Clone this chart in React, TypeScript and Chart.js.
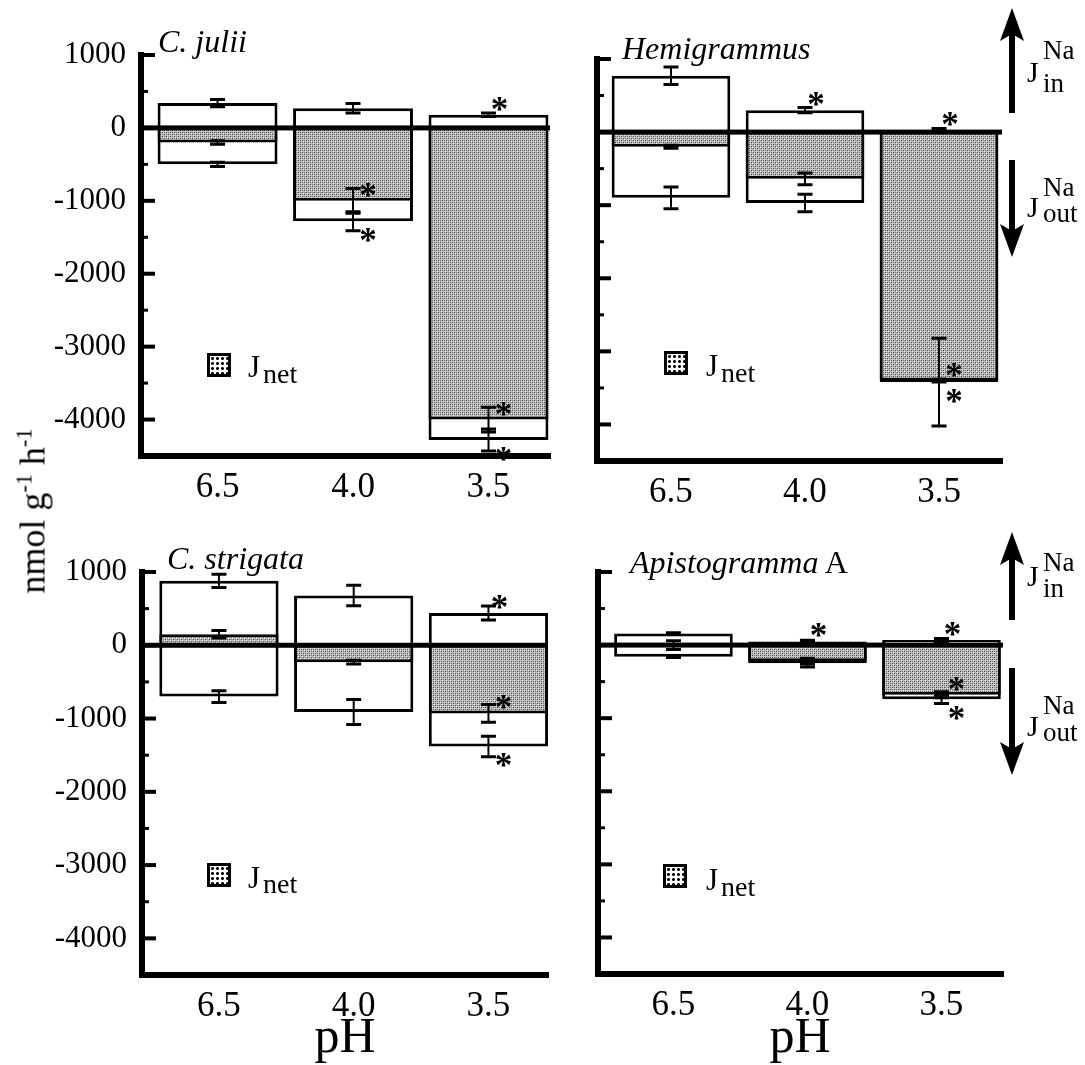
import React, { useEffect, useRef } from 'react';
import { Chart, registerables } from 'chart.js';
Chart.register(...registerables);

const FONT = '"Liberation Serif", "Times New Roman", Times, serif';

// ---------- data ----------
const phLabels = ['6.5', '4.0', '3.5'];
const yTickValues = [1000, 0, -1000, -2000, -3000, -4000];
const yMinorValues = [500, -500, -1500, -2500, -3500];

// C. julii
const juliiIn = [340, 270, 180];
const juliiInErr = [50, 65, 25];
const juliiOut = [-500, -1280, -4280];
const juliiOutErr = [30, 130, 150];
const juliiNet = [-200, -1000, -4000];
const juliiNetErr = [25, 170, 170];
const juliiSigIn = [false, false, true];
const juliiSigOut = [false, true, true];
const juliiSigNet = [false, true, true];

// Hemigrammus
const hemiIn = [770, 300, 30];
const hemiInErr = [120, 35, 20];
const hemiOut = [-900, -970, -3420];
const hemiOutErr = [150, 120, 600];
const hemiNet = [-200, -640, -3400];
const hemiNetErr = [20, 80, 20];
const hemiSigIn = [false, true, true];
const hemiSigOut = [false, false, true];
const hemiSigNet = [false, false, true];

// C. strigata
const strigIn = [880, 680, 440];
const strigInErr = [90, 140, 95];
const strigOut = [-700, -910, -1380];
const strigOutErr = [80, 170, 140];
const strigNet = [150, -230, -930];
const strigNetErr = [50, 25, 120];
const strigSigIn = [false, false, true];
const strigSigOut = [false, false, true];
const strigSigNet = [false, false, true];

// Apistogramma A
const apistoIn = [160, 50, 70];
const apistoInErr = [10, 15, 20];
const apistoOut = [-160, -250, -740];
const apistoOutErr = [10, 50, 60];
const apistoNet = [0, -220, -680];
const apistoNetErr = [60, 40, 40];
const apistoSigIn = [false, true, true];
const apistoSigOut = [false, false, true];
const apistoSigNet = [false, false, true];

const Y_MIN = -4500;
const Y_MAX = 1000;

// ---------- layout ----------
type Layout = { left: number; right: number; top: number; bottom: number; xMin: number; xMax: number; showY: boolean };
const PT = 25, PR = 10, HX = 60;

const layoutTL: Layout = { left: 141, right: 550, top: 55, bottom: 456, xMin: -0.565, xMax: 2.454, showY: true };
const layoutTR: Layout = { left: 597, right: 1002, top: 59, bottom: 461, xMin: -0.552, xMax: 2.47, showY: false };
const layoutBL: Layout = { left: 142, right: 548, top: 572, bottom: 975, xMin: -0.571, xMax: 2.442, showY: true };
const layoutBR: Layout = { left: 598, right: 1003, top: 572, bottom: 974, xMin: -0.563, xMax: 2.459, showY: false };

function makePattern(): CanvasPattern | string {
  const c = document.createElement('canvas');
  c.width = 4; c.height = 4;
  const g = c.getContext('2d');
  if (!g) return '#b0b0b0';
  g.fillStyle = '#bdbdbd'; g.fillRect(0, 0, 4, 4);
  g.fillStyle = '#444'; g.fillRect(0, 0, 1, 1); g.fillRect(2, 2, 1, 1);
  g.fillStyle = '#808080'; g.fillRect(2, 0, 1, 1); g.fillRect(0, 2, 1, 1);
  g.fillStyle = '#e2e2e2'; g.fillRect(1, 1, 1, 1); g.fillRect(3, 3, 1, 1);
  return g.createPattern(c, 'repeat') || '#b0b0b0';
}

const annotPlugin = {
  id: 'annot',
  afterDatasetsDraw(chart: any) {
    const ctx: CanvasRenderingContext2D = chart.ctx;
    const ca = chart.chartArea;
    const ys = chart.scales.y;
    ctx.save();
    ctx.fillStyle = '#000';
    ctx.strokeStyle = '#000';
    // zero line
    const y0 = ys.getPixelForValue(0);
    ctx.fillRect(ca.left, y0 - 2.5, ca.right - ca.left, 5);
    // error bars
    chart.data.datasets.forEach((ds: any, di: number) => {
      const meta = chart.getDatasetMeta(di);
      meta.data.forEach((el: any, j: number) => {
        const v = ds.data[j].y;
        const e = ds.errors[j];
        const yt = ys.getPixelForValue(v + e);
        const yb = ys.getPixelForValue(v - e);
        const x = el.x;
        ctx.lineWidth = 2;
        ctx.beginPath(); ctx.moveTo(x, yt); ctx.lineTo(x, yb); ctx.stroke();
        ctx.lineWidth = 3;
        ctx.beginPath();
        ctx.moveTo(x - 7.5, yt); ctx.lineTo(x + 7.5, yt);
        ctx.moveTo(x - 7.5, yb); ctx.lineTo(x + 7.5, yb);
        ctx.stroke();
      });
    });
    // asterisks
    ctx.font = `bold 35px ${FONT}`;
    ctx.textAlign = 'center';
    ctx.textBaseline = 'alphabetic';
    const m = ctx.measureText('*');
    const off = ((m.actualBoundingBoxAscent || 22) - (m.actualBoundingBoxDescent || 0)) / 2;
    chart.data.datasets.forEach((ds: any, di: number) => {
      const meta = chart.getDatasetMeta(di);
      meta.data.forEach((el: any, j: number) => {
        if (!ds.sig[j]) return;
        const v = ds.data[j].y;
        const py = ys.getPixelForValue(v);
        let cx = el.x, cy = py;
        if (ds.kind === 'in') { cx += 11; cy = py - 11; }
        else if (ds.kind === 'out') { cx += 15; cy = py + 14; }
        else { cx += 15; cy = py - 11; }
        ctx.fillText('*', cx, cy + off);
      });
    });
    // y ticks (inward)
    yTickValues.forEach((v) => {
      const py = ys.getPixelForValue(v);
      ctx.fillRect(ca.left, py - 2, 14, 4);
    });
    yMinorValues.forEach((v) => {
      const py = ys.getPixelForValue(v);
      ctx.fillRect(ca.left, py - 1.5, 7, 3);
    });
    // corner
    ctx.fillRect(ca.left - 3, ca.bottom - 3, 6, 6);
    ctx.restore();
  },
};

type PanelProps = {
  layout: Layout;
  inV: number[]; inE: number[];
  outV: number[]; outE: number[];
  netV: number[]; netE: number[];
  sIn: boolean[]; sOut: boolean[]; sNet: boolean[];
};

function Panel(p: PanelProps) {
  const ref = useRef<HTMLCanvasElement>(null);
  const L = p.layout;
  const WY = L.showY ? 141 : 30;
  const w = WY + (L.right - L.left) + PR;
  const h = PT + (L.bottom - L.top) + HX;
  const cl = L.left - WY;
  const ct = L.top - PT;

  useEffect(() => {
    if (!ref.current) return;
    const pattern = makePattern();
    const pts = (arr: number[]) => arr.map((v, i) => ({ x: i, y: v }));
    const chart = new Chart(ref.current, {
      type: 'bar',
      data: {
        datasets: [
          { label: 'J_net', data: pts(p.netV), backgroundColor: pattern as any, borderColor: '#000', borderWidth: 3, order: 0, errors: p.netE, sig: p.sNet, kind: 'net' } as any,
          { label: 'J_in', data: pts(p.inV), backgroundColor: '#fff', borderColor: '#000', borderWidth: 3, order: 1, errors: p.inE, sig: p.sIn, kind: 'in' } as any,
          { label: 'J_out', data: pts(p.outV), backgroundColor: '#fff', borderColor: '#000', borderWidth: 3, order: 2, errors: p.outE, sig: p.sOut, kind: 'out' } as any,
        ],
      },
      options: {
        responsive: false,
        animation: false,
        devicePixelRatio: 1,
        layout: { padding: { left: 0, top: PT, right: PR, bottom: 0 } },
        plugins: { legend: { display: false }, tooltip: { enabled: false }, title: { display: false } },
        datasets: { bar: { grouped: false, barPercentage: 0.885, categoryPercentage: 1 } } as any,
        scales: {
          x: {
            type: 'linear',
            min: L.xMin,
            max: L.xMax,
            offset: false,
            afterBuildTicks: (s: any) => { s.ticks = phLabels.map((_, i) => ({ value: i })); },
            afterFit: (s: any) => { s.height = HX; s.paddingLeft = 0; s.paddingRight = 0; },
            ticks: {
              callback: (v: any) => phLabels[Math.round(Number(v))] ?? '',
              font: { family: FONT, size: 35 },
              color: '#000',
              padding: 11,
              autoSkip: false,
              maxRotation: 0,
            },
            grid: { display: true, drawOnChartArea: false, drawTicks: false },
            border: { display: true, width: 6, color: '#000' },
          } as any,
          y: {
            type: 'linear',
            min: Y_MIN,
            max: Y_MAX,
            afterBuildTicks: (s: any) => { s.ticks = yTickValues.map((v) => ({ value: v })); },
            afterFit: (s: any) => { s.width = WY; s.paddingTop = 0; s.paddingBottom = 0; },
            ticks: {
              display: L.showY,
              callback: (v: any) => String(v),
              font: { family: FONT, size: 31 },
              color: '#000',
              padding: 15,
            },
            grid: { display: true, drawOnChartArea: false, drawTicks: false },
            border: { display: true, width: 6, color: '#000' },
          } as any,
        },
      },
      plugins: [annotPlugin as any],
    });
    return () => chart.destroy();
  }, []);

  return (
    <canvas
      ref={ref}
      width={w}
      height={h}
      style={{ position: 'absolute', left: cl, top: ct, width: w, height: h }}
    />
  );
}

function Txt({ x, base, size, italic, center, children }: { x: number; base: number; size: number; italic?: boolean; center?: boolean; children: React.ReactNode }) {
  return (
    <div
      style={{
        position: 'absolute',
        left: x,
        top: base - 0.8375 * size,
        fontSize: size,
        lineHeight: `${size}px`,
        fontStyle: italic ? 'italic' : 'normal',
        whiteSpace: 'nowrap',
        fontFamily: FONT,
        color: '#000',
        transform: center ? 'translateX(-50%)' : undefined,
      }}
    >
      {children}
    </div>
  );
}

const legendBg = 'radial-gradient(circle, #000 1.2px, transparent 1.7px) 0 0 / 5px 5px, #fff';

function Legend({ sx, sy, jx, jBase, netBase }: { sx: number; sy: number; jx: number; jBase: number; netBase: number }) {
  return (
    <>
      <div style={{ position: 'absolute', left: sx, top: sy, width: 24, height: 24, boxSizing: 'border-box', border: '3px solid #000', background: legendBg }} />
      <Txt x={jx} base={jBase} size={31}>J</Txt>
      <Txt x={jx + 15} base={netBase} size={28}>net</Txt>
    </>
  );
}

function FluxLabel({ x, jBase, naBase, subBase, sub }: { x: number; jBase: number; naBase: number; subBase: number; sub: string }) {
  return (
    <>
      <Txt x={x} base={jBase} size={30}>J</Txt>
      <Txt x={x + 16} base={naBase} size={27}>Na</Txt>
      <Txt x={x + 16} base={subBase} size={27}>{sub}</Txt>
    </>
  );
}

export default function App() {
  const supStyle: React.CSSProperties = { fontSize: '0.62em', position: 'relative', top: '-0.6em' };
  return (
    <div style={{ position: 'absolute', left: 0, top: 0, width: 1085, height: 1065, background: '#fff', overflow: 'hidden', fontFamily: FONT }}>
      <Panel layout={layoutTL} inV={juliiIn} inE={juliiInErr} outV={juliiOut} outE={juliiOutErr} netV={juliiNet} netE={juliiNetErr} sIn={juliiSigIn} sOut={juliiSigOut} sNet={juliiSigNet} />
      <Panel layout={layoutTR} inV={hemiIn} inE={hemiInErr} outV={hemiOut} outE={hemiOutErr} netV={hemiNet} netE={hemiNetErr} sIn={hemiSigIn} sOut={hemiSigOut} sNet={hemiSigNet} />
      <Panel layout={layoutBL} inV={strigIn} inE={strigInErr} outV={strigOut} outE={strigOutErr} netV={strigNet} netE={strigNetErr} sIn={strigSigIn} sOut={strigSigOut} sNet={strigSigNet} />
      <Panel layout={layoutBR} inV={apistoIn} inE={apistoInErr} outV={apistoOut} outE={apistoOutErr} netV={apistoNet} netE={apistoNetErr} sIn={apistoSigIn} sOut={apistoSigOut} sNet={apistoSigNet} />

      {/* panel titles */}
      <Txt x={158} base={52} size={32} italic>C. julii</Txt>
      <Txt x={622} base={59} size={32} italic>Hemigrammus</Txt>
      <Txt x={167} base={569} size={32} italic>C. strigata</Txt>
      <Txt x={630} base={573} size={32}><i>Apistogramma</i> A</Txt>

      {/* legends */}
      <Legend sx={207} sy={353} jx={248} jBase={377} netBase={383} />
      <Legend sx={664} sy={351} jx={706} jBase={376} netBase={382} />
      <Legend sx={207} sy={863} jx={248} jBase={888} netBase={893} />
      <Legend sx={663} sy={864} jx={706} jBase={890} netBase={896} />

      {/* y axis title */}
      <div
        style={{
          position: 'absolute', left: 35, top: 511, transform: 'translate(-50%, -50%) rotate(-90deg)',
          fontSize: 36, lineHeight: '36px', whiteSpace: 'nowrap', fontFamily: FONT,
        }}
      >
        nmol g<span style={supStyle}>-1</span> h<span style={supStyle}>-1</span>
      </div>

      {/* x axis titles */}
      <Txt x={345} base={1052} size={50} center>pH</Txt>
      <Txt x={800} base={1052} size={50} center>pH</Txt>

      {/* arrows */}
      <svg width={1085} height={1065} style={{ position: 'absolute', left: 0, top: 0, pointerEvents: 'none' }}>
        <rect x={1009} y={32} width={6} height={81} fill="#000" />
        <polygon points="1012,8 1024,41 1012,34 1000,41" fill="#000" />
        <rect x={1009} y={160} width={6} height={72} fill="#000" />
        <polygon points="1012,257 1024,224 1012,231 1000,224" fill="#000" />
        <rect x={1009} y={556} width={6} height={64} fill="#000" />
        <polygon points="1012,532 1024,565 1012,558 1000,565" fill="#000" />
        <rect x={1009} y={668} width={6} height={82} fill="#000" />
        <polygon points="1012,775 1024,742 1012,749 1000,742" fill="#000" />
      </svg>
      <FluxLabel x={1027} jBase={82} naBase={60} subBase={93} sub="in" />
      <FluxLabel x={1027} jBase={217} naBase={197} subBase={223} sub="out" />
      <FluxLabel x={1027} jBase={586} naBase={572} subBase={598} sub="in" />
      <FluxLabel x={1027} jBase={736} naBase={715} subBase={742} sub="out" />
    </div>
  );
}
